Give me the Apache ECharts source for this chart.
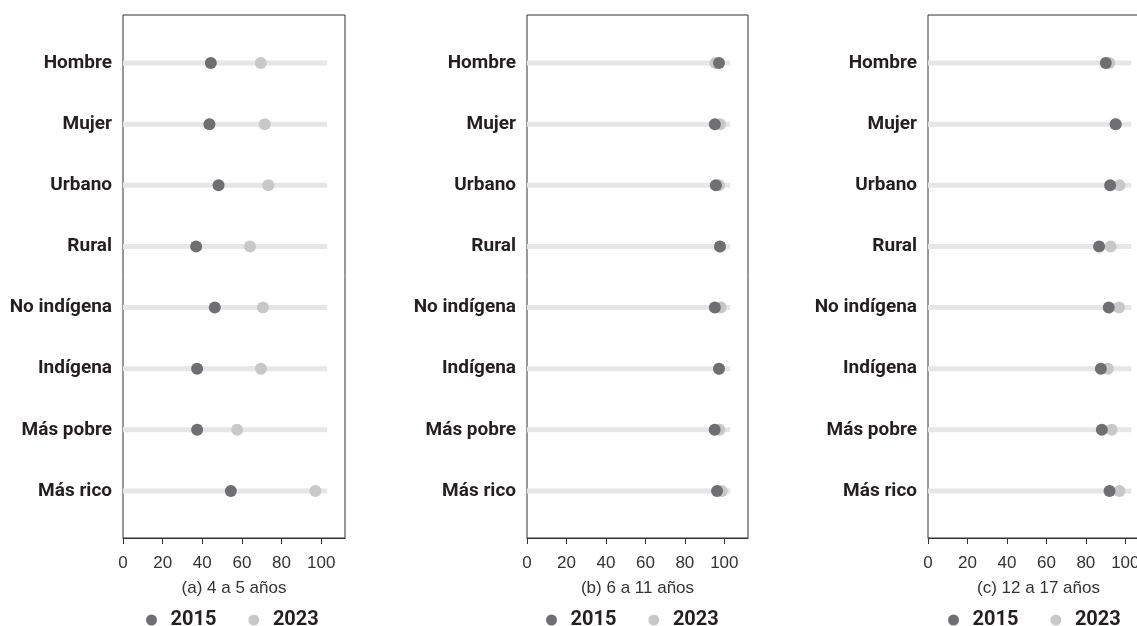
<!DOCTYPE html>
<html lang="es">
<head>
<meta charset="utf-8">
<title>Asistencia escolar 2015 y 2023</title>
<script src="https://cdn.jsdelivr.net/npm/echarts@6/dist/echarts.min.js"></script>
<style>
  html, body { margin: 0; padding: 0; background: #ffffff; }
  #chart { width: 1137px; height: 626px; }
</style>
</head>
<body>
<div id="chart"></div>
<script>
const categories = ["Hombre", "Mujer", "Urbano", "Rural", "No indígena", "Indígena", "Más pobre", "Más rico"];

const age4to5_2015 = [44.3, 43.6, 48.2, 36.9, 46.3, 37.4, 37.4, 54.4];
const age4to5_2023 = [69.5, 71.5, 73.3, 64.1, 70.6, 69.6, 57.6, 97.1];
const age6to11_2015 = [97.3, 95.2, 95.7, 97.8, 95.2, 97.3, 95.1, 96.3];
const age6to11_2023 = [95.5, 97.8, 97.3, 97.8, 98.2, 97.3, 97.5, 98.7];
const age12to17_2015 = [90.1, 95.1, 92.3, 86.7, 91.6, 87.6, 88.1, 92.0];
const age12to17_2023 = [91.9, 95.1, 97.0, 92.5, 96.8, 91.1, 93.1, 97.0];

// background track behind each row
const trackEnd = [103, 103, 103, 103, 103, 103, 103, 103];

const xTicks = [0, 20, 40, 60, 80, 100];
const panelTitles = ["(a) 4 a 5 años", "(b) 6 a 11 años", "(c) 12 a 17 años"];
const years = ["2015", "2023"];

const panels = [
  { title: panelTitles[0], v2015: age4to5_2015, v2023: age4to5_2023 },
  { title: panelTitles[1], v2015: age6to11_2015, v2023: age6to11_2023 },
  { title: panelTitles[2], v2015: age12to17_2015, v2023: age12to17_2023 },
];

// the third panel runs past the right edge, as in the source
const layout = [
  { left: 123, width: 222, legendLeft: 141 },
  { left: 527, width: 221, legendLeft: 541 },
  { left: 928, width: 221, legendLeft: 943 },
];

const DARK = "#6f6f72";
const LIGHT = "#c8c8c8";
const TRACK = "#e6e6e6";
const X_MAX = 112;
const BOLD_FONT = "Roboto, 'Liberation Sans', sans-serif";
const TEXT_FONT = "'Liberation Sans', Arial, sans-serif";

const grid = [];
const xAxis = [];
const yAxis = [];
const series = [];
const legend = [];

panels.forEach((panel, i) => {
  const box = layout[i];
  const outer = i * 2;
  const inner = i * 2 + 1;

  // framed grid carrying the visible x axis
  grid.push({
    left: box.left,
    width: box.width,
    top: 15,
    height: 523,
    show: true,
    borderColor: "#333333",
    borderWidth: 1,
    containLabel: false,
    outerBoundsMode: "none",
  });
  // inner grid where the rows sit
  grid.push({
    left: box.left,
    width: box.width,
    top: 63,
    height: 428,
    containLabel: false,
    outerBoundsMode: "none",
  });

  xAxis.push({
    type: "value",
    gridIndex: outer,
    min: 0,
    max: X_MAX,
    name: panel.title,
    nameLocation: "middle",
    nameGap: 42,
    nameTextStyle: { fontFamily: TEXT_FONT, fontSize: 17, color: "#333333" },
    axisLine: { show: true, lineStyle: { color: "#333333", width: 1 } },
    axisTick: { show: true, length: 6, customValues: xTicks, lineStyle: { color: "#333333" } },
    axisLabel: {
      customValues: xTicks,
      margin: 17,
      fontFamily: TEXT_FONT,
      fontSize: 17,
      color: "#333333",
    },
    splitLine: { show: false },
  });
  xAxis.push({
    type: "value",
    gridIndex: inner,
    min: 0,
    max: X_MAX,
    show: false,
  });

  yAxis.push({
    type: "value",
    gridIndex: outer,
    show: false,
  });
  yAxis.push({
    type: "category",
    gridIndex: inner,
    data: categories,
    inverse: true,
    boundaryGap: false,
    axisLine: { show: false },
    axisTick: { show: false },
    splitLine: { show: false },
    axisLabel: {
      margin: 11,
      fontFamily: BOLD_FONT,
      fontWeight: "bold",
      fontSize: 19,
      color: "#231f20",
    },
  });

  series.push({
    type: "bar",
    xAxisIndex: inner,
    yAxisIndex: inner,
    data: trackEnd,
    barWidth: 5,
    silent: true,
    itemStyle: { color: TRACK },
    z: 1,
  });
  series.push({
    name: years[1],
    type: "scatter",
    xAxisIndex: inner,
    yAxisIndex: inner,
    data: panel.v2023,
    symbolSize: 12,
    itemStyle: { color: LIGHT, opacity: 1 },
    z: 2,
  });
  series.push({
    name: years[0],
    type: "scatter",
    xAxisIndex: inner,
    yAxisIndex: inner,
    data: panel.v2015,
    symbolSize: 12,
    itemStyle: { color: DARK, opacity: 1 },
    z: 3,
  });

  legend.push({
    data: years,
    left: box.legendLeft,
    top: 605,
    orient: "horizontal",
    icon: "circle",
    itemWidth: 28,
    itemHeight: 11,
    itemGap: 32,
    selectedMode: false,
    textStyle: {
      fontFamily: BOLD_FONT,
      fontWeight: "bold",
      fontSize: 20,
      color: "#231f20",
    },
  });
});

const chart = echarts.init(document.getElementById("chart"), null, { renderer: "canvas" });
chart.setOption({
  animation: false,
  backgroundColor: "#ffffff",
  grid,
  xAxis,
  yAxis,
  legend,
  series,
});

window.addEventListener("resize", () => chart.resize());
</script>
</body>
</html>
